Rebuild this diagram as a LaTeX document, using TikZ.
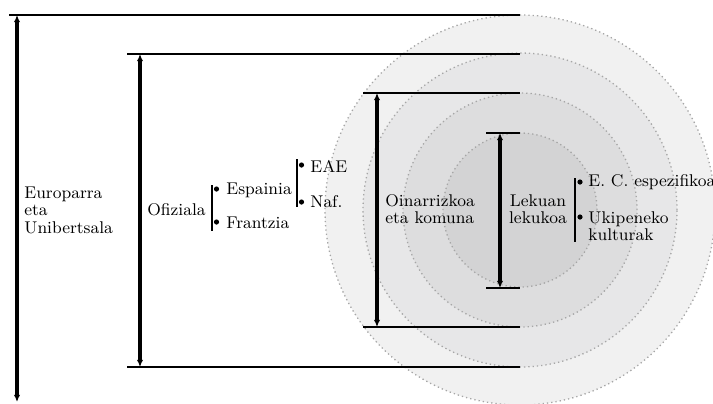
\documentclass[tikz,border=0pt]{standalone}
\usetikzlibrary{arrows.meta}
\definecolor{ringA}{HTML}{F1F1F1}
\definecolor{ringB}{HTML}{E7E7E8}
\definecolor{ringC}{HTML}{DDDDDE}
\definecolor{ringD}{HTML}{D3D3D4}
\begin{document}
\begin{tikzpicture}[x=0.5pt,y=-0.5pt,font=\fontsize{8.5}{8.7}\selectfont]
      \tikzset{ring/.style={draw=gray!70, line width=0.65pt, dash pattern=on 0.65pt off 1.5pt}}
      \tikzset{hline/.style={line width=0.65pt}}
      \tikzset{dim/.style={line width=1.6pt, {Latex[length=3.6pt,width=3.2pt]}-{Latex[length=3.6pt,width=3.2pt]}}}
      \tikzset{brace/.style={line width=0.6pt}}
      \tikzset{enclosed/.style={circle, inner sep=0pt, minimum size=2.6pt, fill=black}}
      \tikzset{lbl/.style={inner sep=0pt, align=left, anchor=west}}
      \useasboundingbox (0,0) rectangle (713,403);
%% Rings
      \coordinate (c) at (520,210);
      \path[ring, fill=ringA] (c) circle (97.5pt);
      \path[ring, fill=ringB] (c) circle (78.5pt);
      \path[ring, fill=ringC] (c) circle (58.5pt);
      \path[ring, fill=ringD] (c) circle (38.5pt);
%% Levels
      \coordinate (h1l) at (9,15);    \coordinate (h1r) at (520,15);
      \coordinate (h2l) at (127,54);  \coordinate (h2r) at (520,54);
      \coordinate (h3l) at (363,93);  \coordinate (h3r) at (520,93);
      \coordinate (h4l) at (486,133); \coordinate (h4r) at (520,133);
      \coordinate (h5l) at (486,288); \coordinate (h5r) at (520,288);
      \coordinate (h6l) at (363,327); \coordinate (h6r) at (520,327);
      \coordinate (h7l) at (127,367); \coordinate (h7r) at (520,367);
      \foreach \i in {1,...,7}
        \draw[hline] (h\i l) -- (h\i r);
%Arrows
      \coordinate (d1t) at (17,15);   \coordinate (d1b) at (17,402);
      \coordinate (d2t) at (140,54);  \coordinate (d2b) at (140,367);
      \coordinate (d3t) at (377,93);  \coordinate (d3b) at (377,327);
      \coordinate (d4t) at (500,133); \coordinate (d4b) at (500,288);
      \foreach \i in {1,...,4}
        \draw[dim] (d\i t) -- (d\i b);
%% Labels
      \node[lbl] (eu) at (24,210) {Europarra\\eta\\Unibertsala};
      \node[lbl] (of) at (147,210) {Ofiziala};
      \node[lbl] (es) at (226,190) {Espainia};
      \node[lbl] (fr) at (226,223) {Frantzia};
      \node[lbl] (eae) at (310,166) {EAE};
      \node[lbl] (naf) at (310,202) {Naf.};
      \node[lbl] (oin) at (385,209) {Oinarrizkoa\\eta komuna};
      \node[inner sep=0pt, align=center] (lek) at (538,209) {Lekuan\\lekukoa};
      \node[lbl] (ec) at (588,182) {E. C. espezifikoa};
      \node[lbl] (uk) at (588,226) {Ukipeneko\\kulturak};
%Brackets
      \coordinate (b1t) at (212,185); \coordinate (b1b) at (212,231);
      \coordinate (b2t) at (297,159); \coordinate (b2b) at (297,207);
      \coordinate (b3t) at (575,178); \coordinate (b3b) at (575,242);
      \foreach \i in {1,2,3}
        \draw[brace] (b\i t) -- (b\i b);
      \node[enclosed] (p1) at (216.5,189) {};
      \node[enclosed] (p2) at (216.5,222) {};
      \node[enclosed] (p3) at (301.5,165) {};
      \node[enclosed] (p4) at (301.5,202) {};
      \node[enclosed] (p5) at (580,182) {};
      \node[enclosed] (p6) at (580,217) {};
\end{tikzpicture}
\end{document}
